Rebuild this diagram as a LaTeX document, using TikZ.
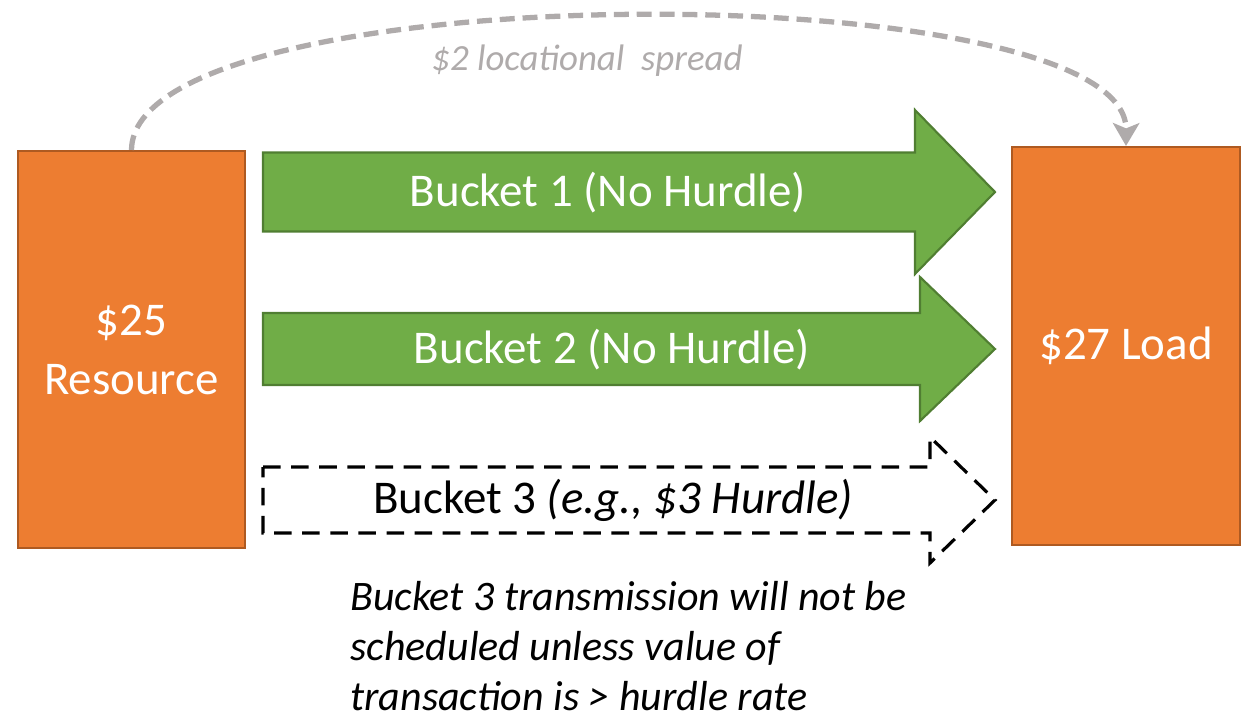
\documentclass[tikz,border=0pt]{standalone}
\usepackage{fontspec}
\setmainfont{Carlito}
\usetikzlibrary{arrows.meta}
\definecolor{boxorange}{RGB}{237,125,49}
\definecolor{boxedge}{RGB}{174,90,33}
\definecolor{arrowgreen}{RGB}{112,173,71}
\definecolor{arrowedge}{RGB}{80,126,50}
\definecolor{spreadgray}{RGB}{175,171,171}

\begin{document}
\begin{tikzpicture}[
        market/.style={draw=boxedge,fill=boxorange,line width=1.2pt,text=white,align=center,inner sep=0pt},
        flow/.style={draw=arrowedge,fill=arrowgreen,line width=1.2pt},
        hurdle/.style={draw=black,line width=1.8pt,dash pattern=on 10pt off 6pt},
        spread/.style={draw=spreadgray,line width=3pt,dash pattern=on 8.5pt off 4.5pt,-{Stealth[length=13pt,width=15pt,inset=3pt]}},
        big/.style={font=\fontsize{26.7}{33.6}\selectfont}
    ]
        \useasboundingbox (0,0) rectangle (25.02,-14.34);

        \coordinate (res) at (2.63,-6.99);
        \coordinate (load) at (22.52,-6.92);

        \node[market,big,minimum width=4.54cm,minimum height=7.94cm] (Resource) at (res) {\$25\\Resource};
        \node[market,big,minimum width=4.56cm,minimum height=7.96cm] (Load) at (load) {\$27 Load};

        % buckets
        \draw[flow] (5.26,-3.05) -- (18.30,-3.05) -- (18.30,-2.20) -- (19.90,-3.84) -- (18.30,-5.48) -- (18.30,-4.63) -- (5.26,-4.63) -- cycle;
        \draw[flow] (5.26,-6.26) -- (18.40,-6.26) -- (18.40,-5.54) -- (19.90,-6.98) -- (18.40,-8.42) -- (18.40,-7.70) -- (5.26,-7.70) -- cycle;
        \draw[hurdle] (5.26,-9.34) -- (18.60,-9.34) -- (18.60,-8.74) -- (19.90,-10.00) -- (18.60,-11.26) -- (18.60,-10.66) -- (5.26,-10.66) -- cycle;

        \node[big,text=white] (bucket1) at (12.16,-3.86) {Bucket 1 (No Hurdle)};
        \node[big,text=white] (bucket2) at (12.24,-7.00) {Bucket 2 (No Hurdle)};
        \node[big] (bucket3) at (12.26,-10.00) {Bucket 3 \textit{(e.g., \$3 Hurdle)}};

        % spread
        \draw[spread] (Resource.north) .. controls (2.66,0.55) and (22.54,0.55) .. (Load.north);
        \node[text=spreadgray,font=\fontsize{21}{25}\selectfont\itshape] (spreadlabel) at (11.74,-1.22) {\$2 locational\ \ spread};

        \node[anchor=west,align=left,inner sep=0pt,font=\fontsize{23.9}{28.45}\selectfont\itshape] (note) at (7.0,-12.92) {Bucket 3 transmission will not be\\scheduled unless value of\\transaction is > hurdle rate};
    \end{tikzpicture}
\end{document}
